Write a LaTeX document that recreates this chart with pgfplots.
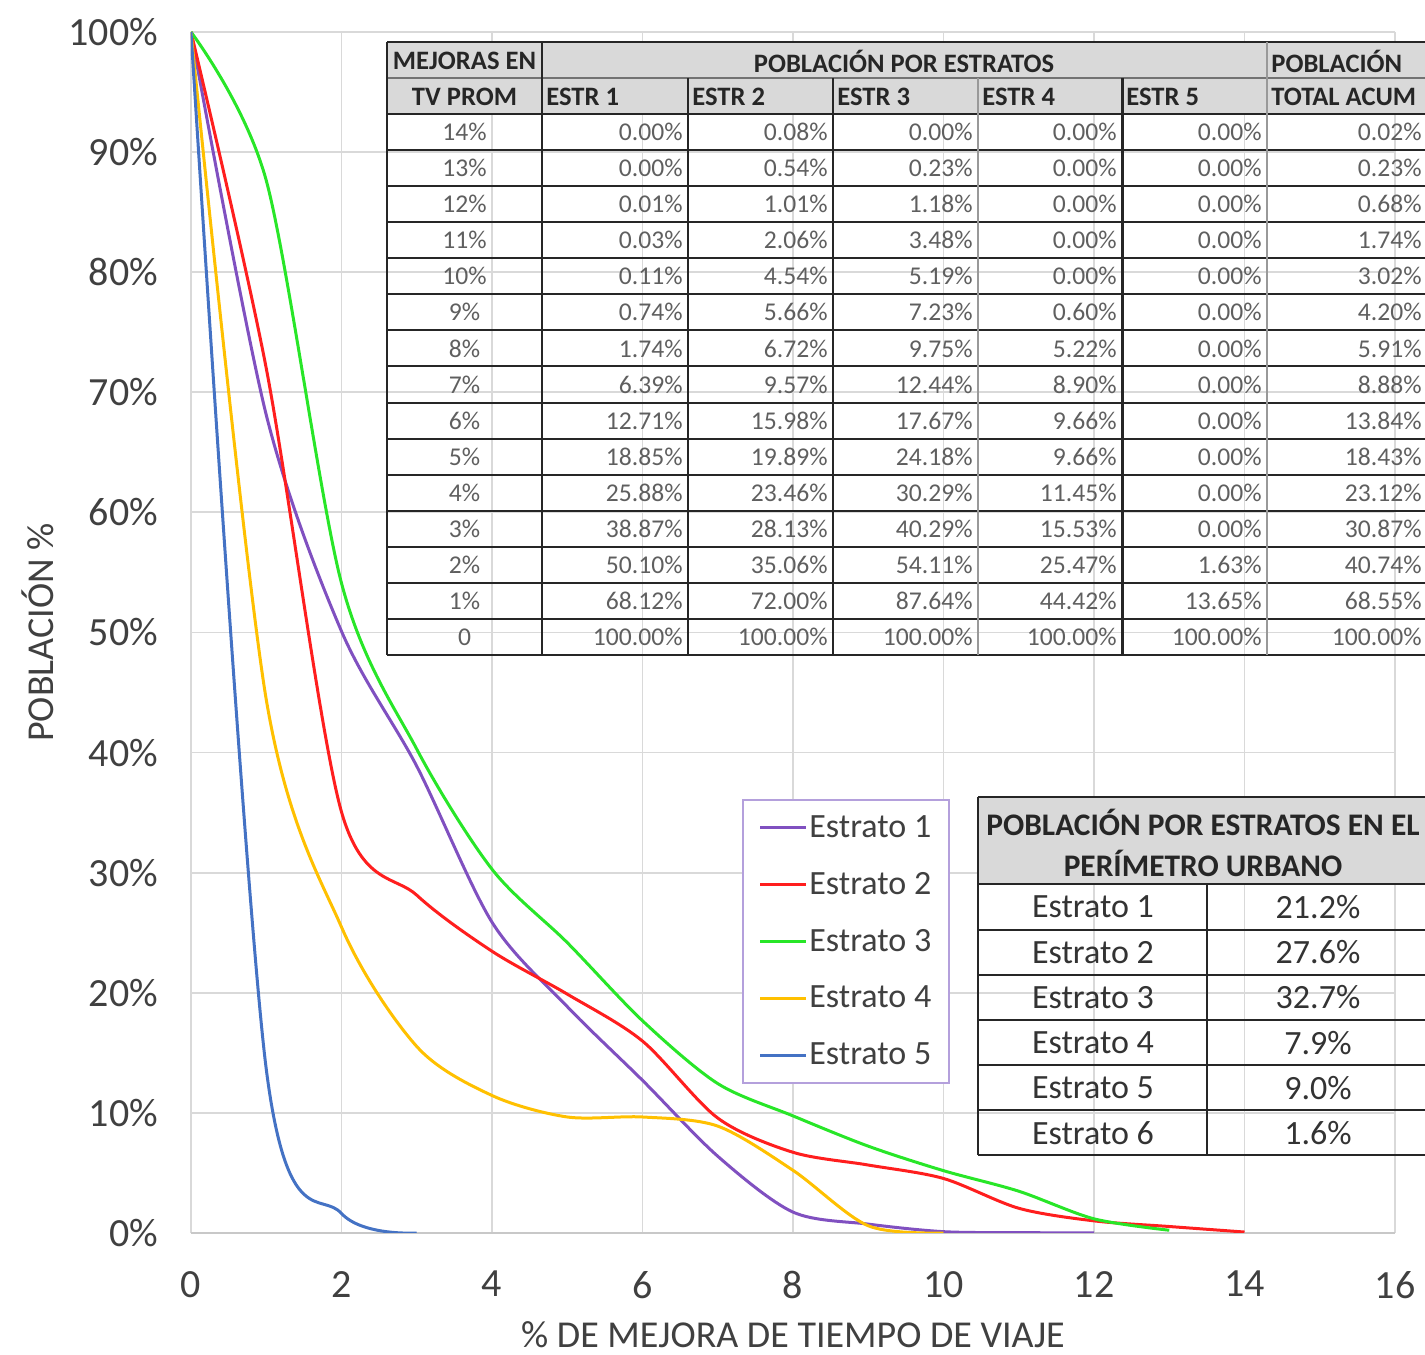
\documentclass[border=0pt]{standalone}
\usepackage{fontspec}
\setmainfont{Carlito}
\usepackage{pgfplots}
\pgfplotsset{compat=1.18}
\definecolor{cE1}{RGB}{128,80,192}
\definecolor{cE2}{RGB}{255,30,30}
\definecolor{cE3}{RGB}{40,230,40}
\definecolor{cE4}{RGB}{255,192,0}
\definecolor{cE5}{RGB}{68,114,196}
\definecolor{txt}{RGB}{64,64,64}
\definecolor{tgray}{RGB}{95,95,95}
\definecolor{gridc}{RGB}{217,217,217}
\definecolor{axc}{RGB}{200,200,200}
\definecolor{hdr}{RGB}{217,217,217}
\definecolor{legbd}{RGB}{180,160,220}
\newcommand\tbody{\fontsize{12.8}{14}\selectfont}
\newcommand\thead{\fontsize{13.3}{15}\selectfont\bfseries}
\newcommand\tbig{\fontsize{17}{20}\selectfont}
\newcommand\tbighead{\fontsize{15.7}{18}\selectfont\bfseries}
\begin{document}
\begin{tikzpicture}
\useasboundingbox (0pt,0pt) rectangle (712.5pt,677.5pt);
\clip (0pt,0pt) rectangle (712.5pt,677.5pt);
\begin{axis}[
  at={(95.5pt,61pt)}, anchor=south west, scale only axis,
  width=602pt, height=600.5pt,
  xmin=0, xmax=16, ymin=0, ymax=100,
  xtick={0,2,...,16}, ytick={0,10,...,100},
  yticklabel={\pgfmathprintnumber{\tick}\%},
  /pgf/number format/assume math mode=true,
  axis line style={draw=none},
  major tick length=0pt,
  grid=major, major grid style={draw=gridc, line width=0.9pt},
  extra y ticks={0}, extra y tick labels={},
  extra y tick style={grid=major, major grid style={draw=axc, line width=1.3pt}},
  tick label style={font=\fontsize{20}{23}\selectfont, text=txt},
  yticklabel style={xshift=-13pt},
  xticklabel style={yshift=-15.5pt},
  xlabel={\% DE MEJORA DE TIEMPO DE VIAJE},
  ylabel={POBLACIÓN \%},
  label style={font=\fontsize{19}{22}\selectfont, text=txt},
  xlabel style={at={(axis description cs:0.5,-0.0849)}, anchor=center},
  ylabel style={at={(axis description cs:-0.127,0.5)}, anchor=center},
  legend cell align=left,
  legend style={at={(axis description cs:0.4576,0.3614)}, anchor=north west,
    draw=legbd, line width=0.8pt, fill=white, font=\tbig, text=txt,
    row sep=4.6pt, inner xsep=8pt, inner ysep=2pt,
    nodes={inner xsep=1pt, inner ysep=5.7pt}},
  legend image code/.code={\draw[#1, line width=1.3pt, sharp plot] (0pt,0pt) -- (23pt,0pt);},
  every axis plot/.append style={line width=1.5pt, smooth},
]
\addplot[cE1] coordinates {(0,100)(1,68.12)(2,50.10)(3,38.87)(4,25.88)(5,18.85)(6,12.71)(7,6.39)(8,1.74)(9,0.74)(10,0.11)(11,0.03)(12,0.01)};
\addlegendentry{Estrato 1}
\addplot[cE2] coordinates {(0,100)(1,72.00)(2,35.06)(3,28.13)(4,23.46)(5,19.89)(6,15.98)(7,9.57)(8,6.72)(9,5.66)(10,4.54)(11,2.06)(12,1.01)(13,0.54)(14,0.08)};
\addlegendentry{Estrato 2}
\addplot[cE3] coordinates {(0,100)(1,87.64)(2,54.11)(3,40.29)(4,30.29)(5,24.18)(6,17.67)(7,12.44)(8,9.75)(9,7.23)(10,5.19)(11,3.48)(12,1.18)(13,0.23)};
\addlegendentry{Estrato 3}
\addplot[cE4] coordinates {(0,100)(1,44.42)(2,25.47)(3,15.53)(4,11.45)(5,9.66)(6,9.66)(7,8.90)(8,5.22)(9,0.60)(10,0.00)};
\addlegendentry{Estrato 4}
\addplot[cE5] coordinates {(0,100)(1,13.65)(2,1.63)(3,0.00)};
\addlegendentry{Estrato 5}
\end{axis}
\begin{scope}[x=0.5pt,y=-0.5pt,shift={(0pt,677.5pt)},every node/.style={inner sep=0pt}]
% ---- big table ----
\fill[hdr] (387,42) rectangle (1440,114);
\draw[line width=1pt, black!85] (387,42) -- (1440,42);
\draw[line width=0.8pt, black!55] (387,78) -- (1440,78);
\foreach \k in {0,...,15} \draw[line width=1pt, black!85] (387,{114+36.07*\k}) -- (1440,{114+36.07*\k});
\draw[line width=1pt, black!85] (387,42) -- (387,655);
\draw[line width=1pt, black!85] (542,42) -- (542,655);
\draw[line width=1pt, black!85] (688,78) -- (688,655);
\draw[line width=1pt, black!85] (833,78) -- (833,655);
\draw[line width=0.8pt, black!40] (978,78) -- (978,655);
\draw[line width=1.5pt, black!85] (1122,78) -- (1122,655);
\draw[line width=0.8pt, black!40] (1267,42) -- (1267,655);
\node[font=\thead, text=black!85] at (464.5,61) {MEJORAS EN};
\node[font=\thead, text=black!85] at (904,61) {POBLACIÓN POR ESTRATOS};
\node[font=\thead, text=black!85, anchor=west] at (1271,61) {POBLACIÓN};
\node[font=\thead, text=black!85] at (464.5,97) {TV PROM};
\node[font=\thead, text=black!85, anchor=west] at (546,97) {ESTR 1};
\node[font=\thead, text=black!85, anchor=west] at (692,97) {ESTR 2};
\node[font=\thead, text=black!85, anchor=west] at (837,97) {ESTR 3};
\node[font=\thead, text=black!85, anchor=west] at (982,97) {ESTR 4};
\node[font=\thead, text=black!85, anchor=west] at (1126,97) {ESTR 5};
\node[font=\thead, text=black!85, anchor=west] at (1271,97) {TOTAL ACUM};
\foreach \a/\b/\c/\d/\e/\f/\g [count=\i from 0] in {
  {14\%}/0.00/0.08/0.00/0.00/0.00/0.02,
  {13\%}/0.00/0.54/0.23/0.00/0.00/0.23,
  {12\%}/0.01/1.01/1.18/0.00/0.00/0.68,
  {11\%}/0.03/2.06/3.48/0.00/0.00/1.74,
  {10\%}/0.11/4.54/5.19/0.00/0.00/3.02,
  {9\%}/0.74/5.66/7.23/0.60/0.00/4.20,
  {8\%}/1.74/6.72/9.75/5.22/0.00/5.91,
  {7\%}/6.39/9.57/12.44/8.90/0.00/8.88,
  {6\%}/12.71/15.98/17.67/9.66/0.00/13.84,
  {5\%}/18.85/19.89/24.18/9.66/0.00/18.43,
  {4\%}/25.88/23.46/30.29/11.45/0.00/23.12,
  {3\%}/38.87/28.13/40.29/15.53/0.00/30.87,
  {2\%}/50.10/35.06/54.11/25.47/1.63/40.74,
  {1\%}/68.12/72.00/87.64/44.42/13.65/68.55,
  {0}/100.00/100.00/100.00/100.00/100.00/100.00}
{
  \node[font=\tbody, text=tgray] at (464.5,{132+36.07*\i}) {\a};
  \node[font=\tbody, text=tgray, anchor=east] at (683,{132+36.07*\i}) {\b\%};
  \node[font=\tbody, text=tgray, anchor=east] at (828,{132+36.07*\i}) {\c\%};
  \node[font=\tbody, text=tgray, anchor=east] at (973,{132+36.07*\i}) {\d\%};
  \node[font=\tbody, text=tgray, anchor=east] at (1117,{132+36.07*\i}) {\e\%};
  \node[font=\tbody, text=tgray, anchor=east] at (1262,{132+36.07*\i}) {\f\%};
  \node[font=\tbody, text=tgray, anchor=east] at (1422,{132+36.07*\i}) {\g\%};
}
% ---- second table ----
\fill[hdr] (978,797) rectangle (1440,884);
\foreach \yy in {797,884,930,975,1020,1065,1110,1155} \draw[line width=1.1pt, black!85] (978,\yy) -- (1440,\yy);
\draw[line width=1.1pt, black!85] (978,797) -- (978,1155);
\draw[line width=1.1pt, black!85] (1207,884) -- (1207,1155);
\draw[line width=1.1pt, black!85] (1428,797) -- (1428,1155);
\node[font=\tbighead, text=black!85] at (1203,822) {POBLACIÓN POR ESTRATOS EN EL};
\node[font=\tbighead, text=black!85] at (1203,863) {PERÍMETRO URBANO};
\foreach \n/\v [count=\i from 0] in {1/21.2,2/27.6,3/32.7,4/7.9,5/9.0,6/1.6}
{
  \node[font=\tbig, text=black!80] at (1093,{907+45.2*\i}) {Estrato \n};
  \node[font=\tbig, text=black!80] at (1318,{907+45.2*\i}) {\v\%};
}
\end{scope}
\end{tikzpicture}
\end{document}
